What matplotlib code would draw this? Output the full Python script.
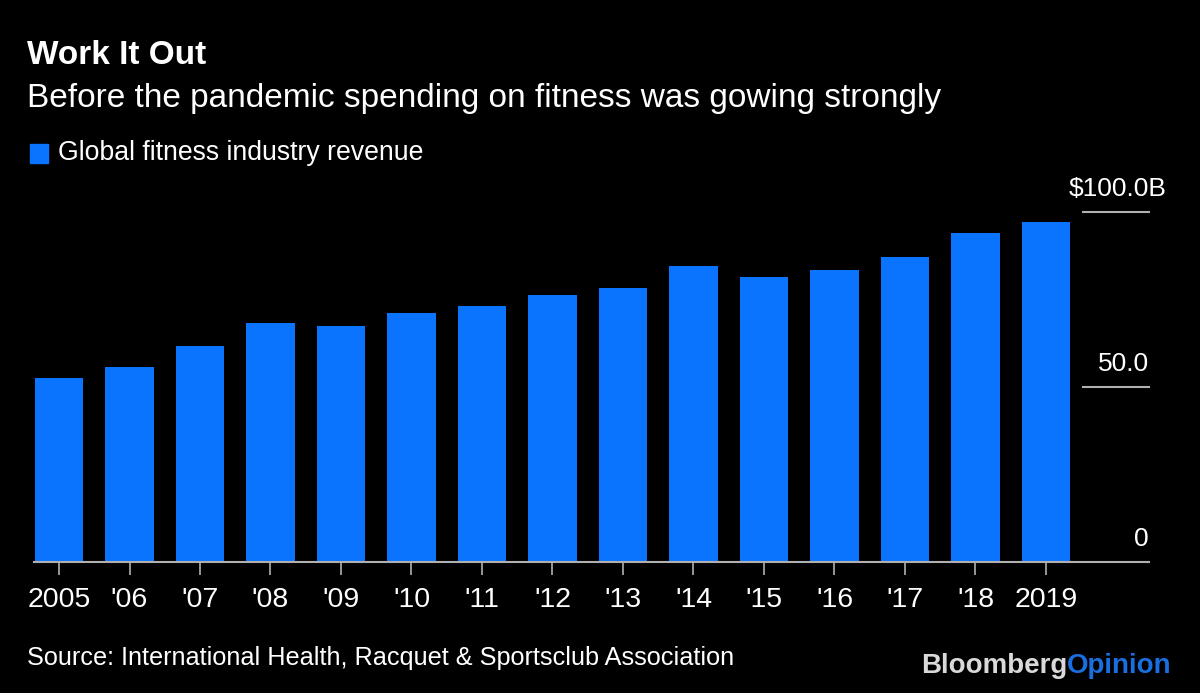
import matplotlib
matplotlib.use("Agg")
import matplotlib.pyplot as plt

years = ["2005", "'06", "'07", "'08", "'09", "'10", "'11", "'12", "'13",
         "'14", "'15", "'16", "'17", "'18", "2019"]
revenue = [52.7, 55.8, 61.7, 68.3, 67.4, 71.0, 73.0, 76.2, 78.2,
           84.5, 81.4, 83.5, 87.1, 93.9, 97.0]
ytick_vals = [0, 50, 100]
ytick_labels = ["0", "50.0", "$100.0B"]

BLUE = "#0a74ff"
FONT = ["Liberation Sans", "DejaVu Sans"]
plt.rcParams["font.family"] = FONT

fig = plt.figure(figsize=(12, 6.93), dpi=100, facecolor="black")
W, H = 1200, 693
ax = fig.add_axes([34 / W, (H - 562.3) / H, (1149 - 34) / W, (562.3 - 211.7) / H])
ax.set_facecolor("black")

x = list(range(len(years)))
ax.bar(x, revenue, width=0.695, color=BLUE, zorder=2)

pitch = 70.5
ax.set_xlim(-25 / pitch, (1149 - 59) / pitch)
ax.set_ylim(0, 100)

for s in ["top", "right", "left"]:
    ax.spines[s].set_visible(False)
ax.spines["bottom"].set_color("#b0b0b0")
ax.spines["bottom"].set_linewidth(1.5)

ax.set_xticks(x)
ax.set_xticklabels(years, color="white", fontsize=20.5)
ax.tick_params(axis="x", length=9, width=1.2, color="#b0b0b0", pad=9)
ax.set_yticks([])

fig.canvas.draw()
renderer = fig.canvas.get_renderer()

# right-side gridline stubs and labels
x0 = (1083 - 59) / pitch
x1 = (1149 - 59) / pitch
for v, lab in zip(ytick_vals, ytick_labels):
    if v != 0:
        ax.plot([x0, x1], [v, v], color="#b0b0b0", lw=1.5, clip_on=False, zorder=1)
    # units suffix hangs past the line end
    dx = 0.0
    if lab.endswith("B"):
        tmp = fig.text(0, 0, "B", fontsize=19)
        dx = tmp.get_window_extent(renderer).width * 72 / fig.dpi
        tmp.remove()
    ax.annotate(lab, xy=(x1, v), xytext=(dx, 8), textcoords="offset points",
                ha="right", va="bottom", color="white", fontsize=19, annotation_clip=False)

# titles
fig.text(27 / W, 1 - 56 / H, "Work It Out", color="white", fontsize=24,
         fontweight="bold", va="center", ha="left")
fig.text(27 / W, 1 - 99 / H, "Before the pandemic spending on fitness was gowing strongly",
         color="white", fontsize=24, va="center", ha="left")

# legend
fig.patches.append(plt.Rectangle((30 / W, 1 - 163 / H), 18 / W, 19 / H,
                                 transform=fig.transFigure, color=BLUE, figure=fig))
fig.text(58 / W, 1 - 153 / H, "Global fitness industry revenue", color="white",
         fontsize=19.2, va="center", ha="left")

# source
fig.text(27 / W, 1 - 658 / H,
         "Source: International Health, Racquet & Sportsclub Association",
         color="white", fontsize=18.2, va="center", ha="left")

# logo
t1 = fig.text(1172 / W, 1 - 666 / H, "Opinion", color="#1a6fe0", fontsize=20,
              fontweight="bold", va="center", ha="right")
bb = t1.get_window_extent(renderer)
fig.text(bb.x0 / W, 1 - 666 / H, "Bloomberg", color="#d9d9d9", fontsize=20,
         fontweight="bold", va="center", ha="right")

fig.savefig("out.png", dpi=100, facecolor="black")
